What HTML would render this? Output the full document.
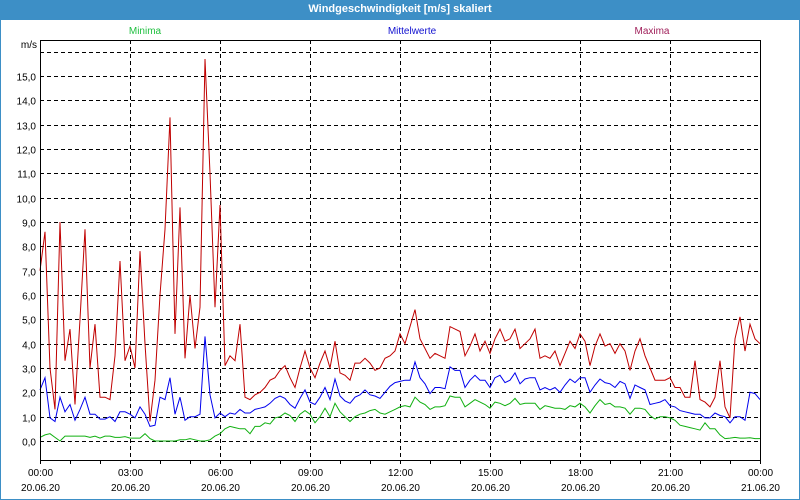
<!DOCTYPE html>
<html><head><meta charset="utf-8"><style>
html,body{margin:0;padding:0;background:#fff;}
body{width:800px;height:500px;overflow:hidden;font-family:"Liberation Sans",sans-serif;}
#win{position:absolute;left:0;top:0;width:798px;height:499px;border:1px solid #3d8fc6;border-top:none;}
#title{position:absolute;left:0;top:0;width:800px;height:20px;background:#3d8fc6;color:#fff;font-weight:bold;font-size:11px;text-align:center;line-height:19px;}
svg{position:absolute;left:0;top:0;}
svg text{font-family:"Liberation Sans",sans-serif;font-size:10px;}
</style></head><body>
<div id="win"></div>
<div id="title">Windgeschwindigkeit [m/s] skaliert</div>
<svg id="chart" width="800" height="500">
<text x="145" y="34" text-anchor="middle" fill="#20c040">Minima</text>
<text x="412" y="34" text-anchor="middle" fill="#1010d0">Mittelwerte</text>
<text x="652" y="34" text-anchor="middle" fill="#a0205a">Maxima</text>
<text x="37" y="48" text-anchor="end" fill="#000">m/s</text>
<g id="grid"></g><g id="series"></g><g id="axes"></g>
</svg>
<script>
const yTicks=[0,1,2,3,4,5,6,7,8,9,10,11,12,13,14,15,16];
const yTickLabels=["0,0","1,0","2,0","3,0","4,0","5,0","6,0","7,0","8,0","9,0","10,0","11,0","12,0","13,0","14,0","15,0",""];
const xTickHours=[0,3,6,9,12,15,18,21,24];
const xTimeLabels=["00:00","03:00","06:00","09:00","12:00","15:00","18:00","21:00","00:00"];
const xDateLabels=["20.06.20","20.06.20","20.06.20","20.06.20","20.06.20","20.06.20","20.06.20","20.06.20","21.06.20"];
const maxima=[7.0,8.6,3.0,1.3,9.0,3.3,4.6,1.5,5.0,8.7,3.0,4.8,1.8,1.8,1.7,3.5,7.4,3.3,3.9,3.0,7.8,4.0,0.8,2.5,6.0,8.7,13.3,4.4,9.6,3.4,6.0,3.8,5.5,15.7,11.0,5.5,9.7,3.1,3.5,3.3,4.8,1.8,
1.7,1.9,2.0,2.2,2.5,2.6,2.9,3.1,2.6,2.2,3.0,3.7,3.0,2.6,3.2,3.7,3.0,4.1,2.8,2.7,2.5,3.2,3.2,3.4,3.2,2.9,3.0,3.4,3.5,3.7,4.4,4.0,4.7,5.4,4.2,3.8,3.4,3.6,3.5,3.4,4.7,4.6,4.5,3.5,3.9,4.4,3.7,4.1,3.6,4.2,4.6,4.1,4.2,4.6,3.8,4.0,4.2,4.6,3.4,3.5,3.4,3.7,3.1,3.6,4.1,3.8,4.4,4.1,3.1,3.9,4.4,3.9,4.0,3.6,4.0,3.7,2.9,3.7,4.2,3.5,3.0,2.5,2.5,2.5,2.6,2.2,2.2,1.8,1.8,3.3,1.7,1.6,1.4,1.8,3.3,1.4,0.95,4.2,5.1,3.7,4.8,4.2,4.0];
const mittel=[2.1,2.6,0.95,0.8,1.8,1.2,1.5,0.85,1.3,1.8,1.1,1.1,0.9,0.9,1.0,0.8,1.2,1.2,1.1,0.95,1.4,1.1,0.6,0.65,1.8,1.7,2.6,1.1,1.8,0.85,1.0,1.0,1.1,4.3,1.9,0.95,1.15,1.0,1.15,1.1,1.3,1.15,
1.15,1.3,1.35,1.4,1.55,1.75,1.85,1.75,1.5,1.35,1.75,2.1,1.6,1.5,1.8,2.2,1.7,2.55,1.85,1.65,1.55,1.8,1.9,2.1,1.9,1.85,1.75,2.0,2.25,2.4,2.45,2.5,2.5,3.25,2.6,2.35,1.95,2.2,2.2,2.15,3.05,2.9,2.9,2.2,2.5,2.7,2.5,2.5,2.2,2.6,2.7,2.4,2.5,2.8,2.35,2.55,2.6,2.6,2.1,2.2,2.1,2.2,2.0,2.3,2.55,2.4,2.6,2.6,2.0,2.3,2.55,2.4,2.35,2.2,2.45,2.35,1.75,2.3,2.2,2.1,1.5,1.55,1.6,1.7,1.45,1.4,1.25,1.2,1.15,1.1,1.1,0.95,0.95,1.15,1.05,1.0,0.75,1.0,1.0,0.85,2.0,1.95,1.7];
const minima=[0.15,0.25,0.3,0.15,0.0,0.2,0.2,0.2,0.2,0.2,0.15,0.2,0.12,0.2,0.2,0.15,0.15,0.18,0.12,0.12,0.12,0.3,0.1,0.0,0.0,0.0,0.0,0.0,0.05,0.05,0.1,0.05,0.0,0.0,0.05,0.2,0.3,0.5,0.6,0.55,0.5,0.5,
0.3,0.6,0.6,0.75,0.7,0.95,1.0,1.15,1.05,0.8,1.1,1.25,1.1,0.75,1.0,1.35,1.0,1.55,1.2,1.0,0.8,1.0,1.1,1.15,1.25,1.3,1.15,1.1,1.2,1.3,1.4,1.45,1.4,1.8,1.6,1.5,1.3,1.4,1.4,1.45,1.85,1.8,1.8,1.4,1.55,1.7,1.6,1.5,1.35,1.6,1.55,1.45,1.55,1.75,1.5,1.55,1.55,1.55,1.3,1.45,1.4,1.35,1.35,1.3,1.45,1.4,1.55,1.4,1.15,1.45,1.7,1.5,1.55,1.4,1.4,1.35,1.1,1.35,1.35,1.3,1.05,0.9,1.0,1.0,0.95,0.85,0.65,0.6,0.55,0.5,0.45,0.75,0.5,0.5,0.25,0.1,0.12,0.15,0.12,0.12,0.13,0.1,0.1];

const L=40,R=760,T=40,B=460,Y0=441,PPU=24.33;
const xs=h=>L+h*(R-L)/24;
const ys=v=>Y0-v*PPU;
const NS="http://www.w3.org/2000/svg";
function mk(tag,attrs,parent){const e=document.createElementNS(NS,tag);for(const k in attrs)e.setAttribute(k,attrs[k]);parent.appendChild(e);return e;}
const grid=document.getElementById('grid'),axes=document.getElementById('axes'),series=document.getElementById('series');
yTicks.forEach((v,i)=>{
  const y=Math.round(ys(v))+0.5;
  const g=mk('line',{x1:L,x2:R,y1:y,y2:y,stroke:'#000','stroke-dasharray':'4,3','stroke-width':1},grid);
  
  
  if(yTickLabels[i]){
    const t=mk('text',{x:36,y:y+4,'text-anchor':'end',fill:'#000'},axes);
    t.textContent=yTickLabels[i];
    
    
  }
});
xTickHours.forEach((h,i)=>{
  const x=Math.round(xs(h))+0.5;
  if(i>0&&i<xTickHours.length-1){
    const g=mk('line',{x1:x,x2:x,y1:T,y2:B,stroke:'#000','stroke-dasharray':'4,3','stroke-width':1},grid);
    
    
  }
  const t=mk('text',{x:x,y:476,'text-anchor':'middle',fill:'#000'},axes);
  t.textContent=xTimeLabels[i];
  
  
  const d=mk('text',{x:x,y:491,'text-anchor':'middle',fill:'#000'},axes);
  d.textContent=xDateLabels[i];
  
  
});
for(let h=0;h<=24;h++){
  const x=Math.round(xs(h))+0.5;
  const tk=mk('line',{x1:x,x2:x,y1:B,y2:B+4,stroke:'#000'},axes);
  
  
}
const box=mk('rect',{x:L+0.5,y:T+0.5,width:R-L,height:B-T,fill:'none',stroke:'#000','stroke-width':1},axes);


function drawSeries(arr,color,name){
  const n=arr.length;
  const pts=arr.map((v,i)=>xs(i*24/(n-1)).toFixed(1)+','+ys(v).toFixed(1)).join(' ');
  const p=mk('polyline',{points:pts,fill:'none',stroke:color,'stroke-width':1},series);
  
  
}
drawSeries(minima,'#10b010','series-minima');
drawSeries(mittel,'#0000ee','series-mittelwerte');
drawSeries(maxima,'#c00000','series-maxima');
</script>
</body></html>
